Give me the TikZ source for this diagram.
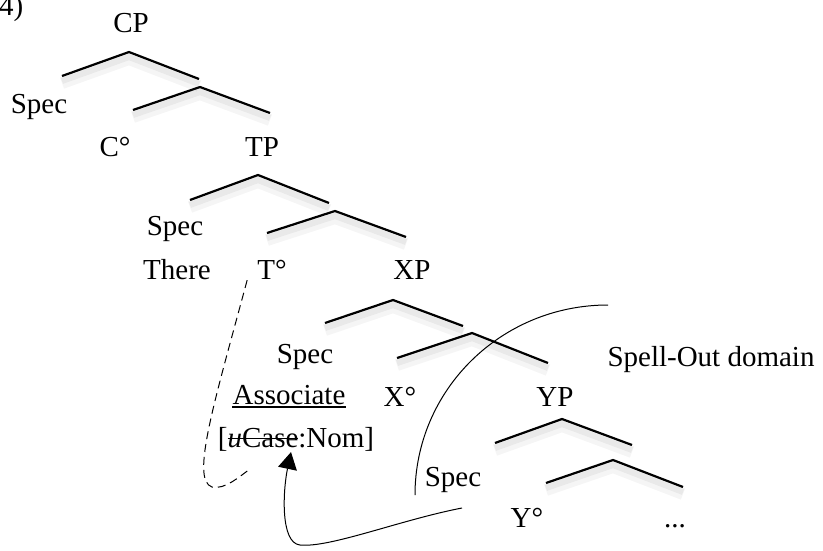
\documentclass[tikz,border=0pt]{standalone}
\usepackage{fontspec}
\setmainfont{Liberation Serif}
\usetikzlibrary{arrows.meta}
\newcommand{\strk}[1]{{\setbox0\hbox{#1}\rlap{\rule[0.26em]{\wd0}{1.3pt}}\box0}}

\begin{document}
\begin{tikzpicture}[x=1pt, y=-1pt, font=\fontsize{29}{32}\selectfont, >={Triangle[length=17pt,width=19pt]},
      lbl/.style={anchor=base, inner sep=1pt},
      br/.style={line width=2.2pt,
        preaction={draw=black, opacity=0.04, line width=12pt, transform canvas={yshift=-7pt}},
        preaction={draw=black, opacity=0.05, line width=6pt, transform canvas={yshift=-5pt}}},
      thinline/.style={line width=1pt}]
    \useasboundingbox (0,0) rectangle (823,550);
    \node[lbl, anchor=base west] (num) at (-2,15) {4)};
    \node[lbl] (cp) at (131,32) {CP};
    \node[lbl] (speccp) at (39,113) {Spec};
    \node[lbl] (cdeg) at (115,156) {C°};
    \node[lbl] (tp) at (262,156) {TP};
    \node[lbl] (spectp) at (175,235) {Spec};
    \node[lbl] (there) at (177,279) {There};
    \node[lbl] (tdeg) at (272,279) {T°};
    \node[lbl] (xp) at (412,279) {XP};
    \node[lbl] (specxp) at (305,363) {Spec};
    \node[lbl] (domain) at (711,366) {Spell-Out domain};
    \node[lbl] (assoc) at (289,404) {Associate};
    \node[lbl] (xdeg) at (400,406) {X°};
    \node[lbl] (yp) at (555,406) {YP};
    \node[lbl] (ucase) at (296,447) {[\strk{\textit{u}Case}:Nom]};
    \node[lbl] (specyp) at (453,486) {Spec};
    \node[lbl] (ydeg) at (527,527) {Y°};
    \node[lbl] (dots) at (675,527) {...};
    \draw[line width=1.3pt] ([xshift=1pt, yshift=-3pt]assoc.base west) -- ([xshift=-1pt, yshift=-3pt]assoc.base east);
    % branches
    \draw[br] (62,76) -- (129,52) -- (199,79);
    \draw[br] (133,110) -- (200,87) -- (270,113);
    \draw[br] (190,200) -- (258,175) -- (329,203);
    \draw[br] (267,233) -- (335,211) -- (406,237);
    \draw[br] (325,323) -- (393,300) -- (463,326);
    \draw[br] (397,358) -- (472,333) -- (548,363);
    \draw[br] (495,443) -- (562,419) -- (632,445);
    \draw[br] (546,483) -- (613,460) -- (683,487);
    % spell-out domain boundary
    \draw[thinline] (415,495) .. controls (415,390) and (501,305) .. (608,305);
    % agreement and case
    \coordinate (dashend) at (250,469);
    \coordinate (src) at (462,508);
    \draw[thinline, dash pattern=on 8pt off 5pt] ([xshift=-9pt]tdeg.south west) .. controls (215,400) and (190,480) .. (212,487) .. controls (225,490) and (240,476) .. (dashend);
    \draw[thinline, ->] (src) .. controls (400,520) and (330,548) .. (300,545) .. controls (280,543) and (283,490) .. ([xshift=-5pt]ucase.south);
  \end{tikzpicture}
\end{document}
